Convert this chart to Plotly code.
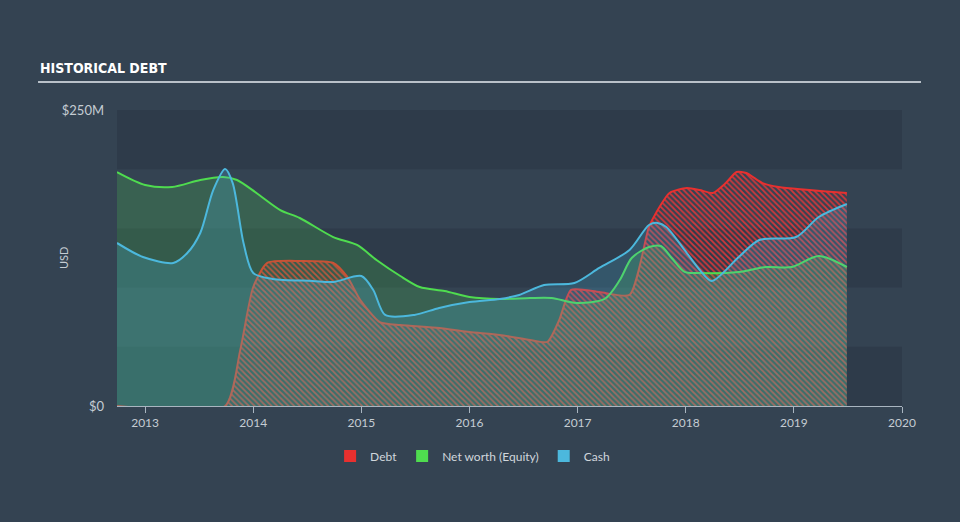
import plotly.graph_objects as go

# ---------------- data ----------------
equity_x = [2012.74, 2013.00, 2013.25, 2013.51, 2013.72, 2013.85, 2014.03, 2014.25, 2014.43, 2014.74,
            2014.96, 2015.14, 2015.36, 2015.54, 2015.77, 2016.00, 2016.28, 2016.56, 2016.76, 2016.99,
            2017.25, 2017.39, 2017.50, 2017.66, 2017.77, 2017.87, 2017.99, 2018.13, 2018.49, 2018.74,
            2018.98, 2019.23, 2019.49]
equity_y = [197.6, 186.7, 185.0, 190.9, 193.4, 190.9, 179.9, 165.5, 158.8, 142.7,
            136.0, 123.3, 109.8, 100.5, 97.1, 92.1, 90.4, 91.2, 91.2, 87.0,
            90.4, 106.4, 125.0, 134.3, 135.1, 125.0, 113.2, 112.3, 113.2, 117.4,
            117.4, 126.7, 117.4]

cash_x = [2012.74, 2012.98, 2013.26, 2013.39, 2013.51, 2013.63, 2013.74, 2013.81, 2013.91, 2014.00,
          2014.18, 2014.55, 2014.74, 2015.00, 2015.11, 2015.22, 2015.49, 2015.72, 2016.00, 2016.28,
          2016.46, 2016.69, 2016.97, 2017.20, 2017.48, 2017.66, 2017.74, 2017.82, 2018.01, 2018.13,
          2018.24, 2018.49, 2018.68, 2019.02, 2019.23, 2019.49]
cash_y = [137.7, 125.8, 120.8, 129.2, 146.1, 182.4, 200.2, 188.3, 137.7, 112.3,
          107.3, 105.6, 104.7, 109.8, 98.0, 76.9, 76.9, 82.8, 87.8, 90.4,
          93.8, 102.2, 103.9, 116.6, 131.8, 152.9, 154.6, 151.2, 129.2, 114.9,
          105.6, 125.8, 140.2, 142.7, 159.6, 170.6]

debt_x = [2012.74, 2013.74, 2013.88, 2014.00, 2014.13, 2014.43, 2014.74, 2014.87, 2014.99, 2015.17,
          2015.36, 2015.72, 2016.00, 2016.28, 2016.56, 2016.72, 2016.83, 2016.94, 2017.20, 2017.48,
          2017.66, 2017.73, 2017.85, 2018.01, 2018.13, 2018.25, 2018.37, 2018.47, 2018.56, 2018.71,
          2018.86, 2019.49]
debt_y = [0.0, 0.0, 47.3, 100.5, 120.8, 122.5, 120.8, 109.0, 89.5, 70.9,
          68.4, 65.9, 62.5, 60.0, 55.7, 54.1, 72.6, 98.0, 96.3, 93.8,
          151.2, 163.9, 179.9, 184.1, 182.4, 179.9, 188.3, 197.6, 196.8, 188.3,
          185.0, 179.9]

year_ticks = [2013, 2014, 2015, 2016, 2017, 2018, 2019, 2020]
y_tick_vals = [0, 250]
y_tick_text = ["$0", "$250M"]
band_edges = [(0, 50), (100, 150), (200, 250)]

# ---------------- styles ----------------
BG = "#344352"
BAND = "#2e3b4a"
RED = "#e8302f"
GREEN = "#4fdc4f"
BLUE = "#4cb8dd"
TXT = "#c5ccd3"
FONT = "Lato, 'Open Sans', sans-serif"

fig = go.Figure()

fig.add_trace(go.Scatter(
    x=debt_x, y=debt_y, mode="lines", line=dict(color=RED, width=2, shape="spline", smoothing=0.6),
    fill="tozeroy", fillcolor="rgba(0,0,0,0)",
    fillpattern=dict(shape="\\", fgcolor="#dc373a", fgopacity=0.95, bgcolor="rgba(0,0,0,0)",
                     size=4, solidity=0.45),
    showlegend=False, hoverinfo="skip"))

fig.add_trace(go.Scatter(
    x=equity_x, y=equity_y, mode="lines", line=dict(color=GREEN, width=2, shape="spline", smoothing=0.8),
    fill="tozeroy", fillcolor="rgba(79,220,79,0.2)", showlegend=False, hoverinfo="skip"))

fig.add_trace(go.Scatter(
    x=cash_x, y=cash_y, mode="lines", line=dict(color=BLUE, width=2, shape="spline", smoothing=0.8),
    fill="tozeroy", fillcolor="rgba(76,184,221,0.22)", showlegend=False, hoverinfo="skip"))

# legend swatches
for name, col in [("Debt", RED), ("Net worth (Equity)", GREEN), ("Cash", BLUE)]:
    fig.add_trace(go.Scatter(x=[None], y=[None], mode="markers", name=name,
                             marker=dict(symbol="square", size=14, color=col)))

shapes = []
for lo, hi in band_edges:
    shapes.append(dict(type="rect", xref="paper", yref="y", x0=0, x1=1, y0=lo, y1=hi,
                       fillcolor=BAND, line=dict(width=0), layer="below"))
# title underline
shapes.append(dict(type="line", xref="paper", yref="paper", x0=-0.1006, x1=1.0242,
                   y0=1.0946, y1=1.0946, line=dict(color="#b9c1c9", width=2)))

fig.update_layout(
    width=960, height=522,
    margin=dict(l=117, r=58, t=110, b=116),
    paper_bgcolor=BG, plot_bgcolor=BG,
    font=dict(family=FONT, size=12, color=TXT),
    shapes=shapes,
    showlegend=True,
    legend=dict(orientation="h", x=0.453, xanchor="center", y=-0.169, yanchor="middle",
                font=dict(size=12, color="#d0d6dc"), itemsizing="constant",
                bgcolor="rgba(0,0,0,0)"),
    annotations=[
        dict(text="HISTORICAL DEBT", xref="paper", yref="paper", x=-0.1006, y=1.142,
             xanchor="left", yanchor="middle", showarrow=False,
             font=dict(family="'DejaVu Sans Condensed', sans-serif",
                       size=14, color="#ffffff", weight="bold")),
        dict(text="USD", xref="paper", yref="paper", x=-0.0688, y=0.5, textangle=-90,
             xanchor="center", yanchor="middle", showarrow=False,
             font=dict(size=11, color=TXT)),
    ],
)

fig.update_xaxes(range=[2012.74, 2020.0], tickvals=year_ticks, ticktext=[str(y) for y in year_ticks],
                 showgrid=False, zeroline=False, showline=True, linecolor="#a9b5c0", linewidth=1,
                 ticks="outside", ticklen=6, tickcolor="#a9b5c0", tickfont=dict(size=12, color=TXT))
fig.update_yaxes(range=[0, 250], tickvals=y_tick_vals, ticktext=y_tick_text,
                 showgrid=False, zeroline=False, showline=False, ticks="",
                 ticklabelstandoff=12, tickfont=dict(size=13, color=TXT))

fig.write_html("out.html")
